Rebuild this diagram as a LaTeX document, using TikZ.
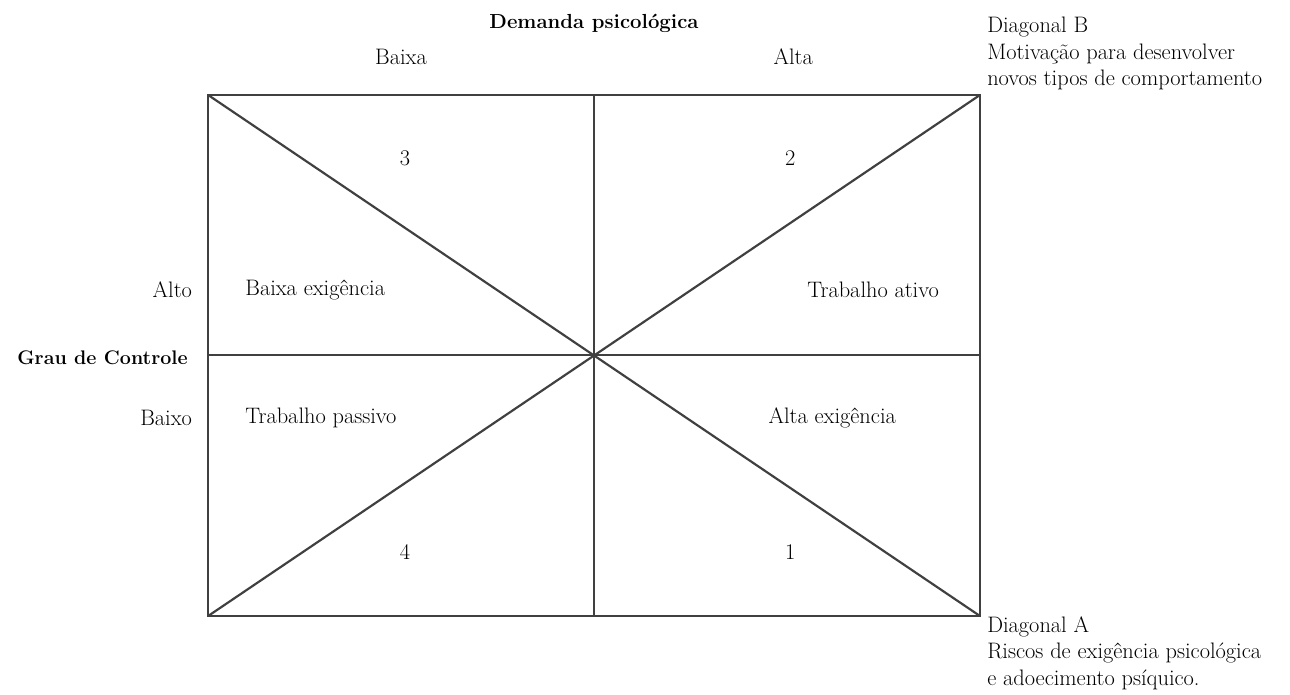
\documentclass[tikz,border=0pt]{standalone}
\usepackage{tikz}
\usetikzlibrary{positioning}
\usetikzlibrary{calc}

\begin{document}
\begin{tikzpicture}[every node/.style={font=\fontsize{16.5}{19.5}\selectfont, inner sep=0pt}, heading/.style={font=\fontsize{15}{19.5}\selectfont\bfseries}, grid/.style={line width=1.6pt, black!75}]
	\useasboundingbox (-5.39, -2.02) rectangle (28.03, 15.96);
	
	\coordinate (bl) at (0, 0);
	\coordinate (br) at (20, 0);
	\coordinate (tl) at (0, 13.5);
	\coordinate (tr) at (20, 13.5);
	\coordinate (bm) at (10, 0);
	\coordinate (tm) at (10, 13.5);
	\coordinate (lm) at (0, 6.76);
	\coordinate (rm) at (20, 6.76);
	
	\node[heading] (demanda) at (10, 15.36) {Demanda psicológica};
	\node (baixa) at (5, 14.48) {Baixa};
	\node (alta) at (15.16, 14.48) {Alta};
	\node[align=left, anchor=west] (diagb) at (20.18, 14.57) {Diagonal B \\ Motivação para desenvolver \\ novos tipos de comportamento};
	\node[align=left, anchor=west] (diaga) at (20.18, -0.96) {Diagonal A \\ Riscos de exigência psicológica \\ e adoecimento psíquico.};
	
	\node (q3) at (5.1, 11.87) {3};
	\node (q2) at (15.08, 11.87) {2};
	\node (q4) at (5.1, 1.66) {4};
	\node (q1) at (15.08, 1.66) {1};
	
	\node[anchor=west] (baixaexig) at (0.96, 8.45) {Baixa exigência};
	\node (trabativo) at (17.23, 8.45) {Trabalho ativo};
	\node[anchor=west] (trabpassivo) at (0.96, 5.13) {Trabalho passivo};
	\node (altaexig) at (16.17, 5.13) {Alta exigência};
	
	\node[anchor=east] (alto) at (-0.41, 8.45) {Alto};
	\node[anchor=east, heading, font=\fontsize{14.5}{19.5}\selectfont\bfseries] (grau) at (-0.52, 6.68) {Grau de Controle};
	\node[anchor=east] (baixo) at (-0.41, 5.13) {Baixo};
	
	\draw[grid] (bl) -- (br) -- (tr) -- (tl) -- cycle;
	\draw[grid] (bm) -- (tm);
	\draw[grid] (lm) -- (rm);
	\draw[grid] (tl) -- (br);
	\draw[grid] (bl) -- (tr);
\end{tikzpicture}
\end{document}
